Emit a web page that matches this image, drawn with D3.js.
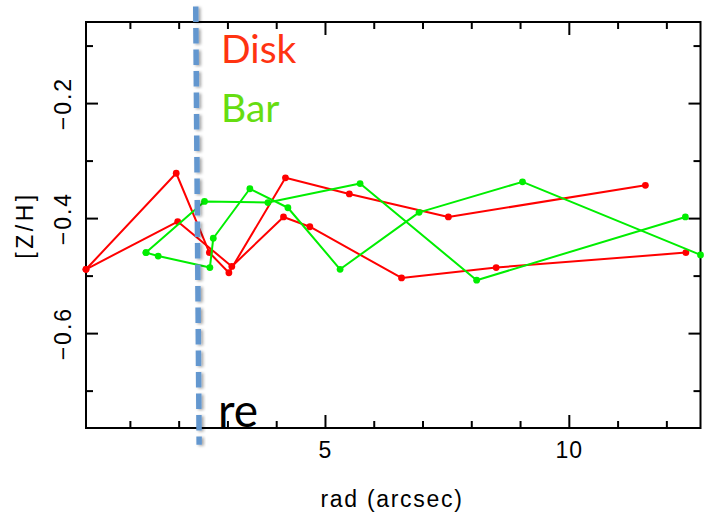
<!DOCTYPE html>
<html>
<head>
<meta charset="utf-8">
<script src="https://cdn.jsdelivr.net/npm/d3@7"></script>
<style>
  body { margin: 0; background: #fff; }
  svg { display: block; }
</style>
</head>
<body>
<div class="svg-container"></div>
<script>
// values (rad in arcsec, [Z/H])
const diskA_rad = [0.10, 1.95, 2.63, 3.03, 4.19, 5.50, 7.53, 11.57];
const diskA_zh  = [-0.489, -0.322, -0.460, -0.495, -0.330, -0.358, -0.398, -0.343];
const diskB_rad = [0.10, 1.98, 3.09, 4.15, 4.69, 6.57, 8.51, 12.40];
const diskB_zh  = [-0.489, -0.406, -0.484, -0.398, -0.415, -0.504, -0.486, -0.460];
const barA_rad  = [1.33, 2.53, 3.83, 5.72, 8.11, 12.39];
const barA_zh   = [-0.460, -0.371, -0.373, -0.340, -0.508, -0.398];
const barB_rad  = [1.33, 1.58, 2.64, 2.71, 3.46, 4.24, 5.31, 6.93, 9.05, 12.70];
const barB_zh   = [-0.460, -0.466, -0.486, -0.435, -0.349, -0.382, -0.489, -0.390, -0.337, -0.464];

// effective radius marker (hand drawn, slightly tilted)
const reLine = [[2.35, -0.032], [2.42, -0.794]];

const xDomain = [0.1, 12.7];
const yDomain = [-0.765, -0.059];
const xMajor = [5, 10];
const xMinor = [1, 2, 3, 4, 6, 7, 8, 9, 11, 12];
const yMajor = [-0.2, -0.4, -0.6];
const yMinor = [-0.1, -0.3, -0.5, -0.7];

const margin = {top: 22, right: 8.5, bottom: 89, left: 86};
const width = 709 - margin.left - margin.right;
const height = 517 - margin.top - margin.bottom;

const svg = d3.select('.svg-container')
    .append('svg')
    .attr('width', 709)
    .attr('height', 517);

const defs = svg.append('defs');
defs.append('filter')
    .attr('id', 'shadow')
    .attr('x', '-200%').attr('width', '500%')
  .append('feDropShadow')
    .attr('dx', 2).attr('dy', 1)
    .attr('stdDeviation', 1.5)
    .attr('flood-color', '#000')
    .attr('flood-opacity', 0.35);

const g = svg.append('g')
    .attr('transform', `translate(${margin.left}, ${margin.top})`);

const x = d3.scaleLinear().domain(xDomain).range([0, width]);
const y = d3.scaleLinear().domain(yDomain).range([height, 0]);

const axisFont = '"Liberation Sans", Arial, sans-serif';

function styleAxis(sel) {
  sel.select('.domain').remove();
  sel.selectAll('line').attr('stroke', '#000').attr('stroke-width', 2);
}

// bottom + top
g.append('g').attr('transform', `translate(0,${height})`)
    .call(d3.axisBottom(x).tickValues(xMinor).tickSize(-7).tickFormat(''))
    .call(styleAxis);
g.append('g').attr('transform', `translate(0,${height})`)
    .call(d3.axisBottom(x).tickValues(xMajor).tickSize(-13).tickPadding(14).tickFormat(d3.format('d')))
    .call(styleAxis)
    .call(s => s.selectAll('text')
      .attr('fill', '#000')
      .style('font-family', axisFont)
      .style('font-size', '23px')
      .style('letter-spacing', '1px'));
g.append('g')
    .call(d3.axisTop(x).tickValues(xMinor).tickSize(-7).tickFormat(''))
    .call(styleAxis);
g.append('g')
    .call(d3.axisTop(x).tickValues(xMajor).tickSize(-13).tickFormat(''))
    .call(styleAxis);

// left + right
g.append('g')
    .call(d3.axisLeft(y).tickValues(yMinor).tickSize(-7).tickFormat(''))
    .call(styleAxis);
g.append('g')
    .call(d3.axisLeft(y).tickValues(yMajor).tickSize(-12).tickFormat(d => d3.format('.1f')(d).replace('-', '\u2212')))
    .call(styleAxis)
    .call(s => s.selectAll('text')
      .attr('fill', '#000')
      .attr('x', 0)
      .attr('y', -15)
      .attr('dy', null)
      .attr('transform', 'rotate(-90)')
      .attr('text-anchor', 'middle')
      .style('font-family', axisFont)
      .style('font-size', '23px')
      .style('letter-spacing', '2px'));
g.append('g').attr('transform', `translate(${width},0)`)
    .call(d3.axisRight(y).tickValues(yMinor).tickSize(-7).tickFormat(''))
    .call(styleAxis);
g.append('g').attr('transform', `translate(${width},0)`)
    .call(d3.axisRight(y).tickValues(yMajor).tickSize(-12).tickFormat(''))
    .call(styleAxis);

// frame
g.append('rect')
    .attr('width', width)
    .attr('height', height)
    .attr('fill', 'none')
    .attr('stroke', '#000')
    .attr('stroke-width', 2);

// axis titles
svg.append('text')
    .attr('x', 392)
    .attr('y', 507)
    .attr('text-anchor', 'middle')
    .style('font-family', axisFont)
    .style('font-size', '23px')
    .style('letter-spacing', '1.7px')
    .text('rad (arcsec)');

svg.append('text')
    .attr('transform', 'translate(33,225) rotate(-90)')
    .attr('text-anchor', 'middle')
    .style('font-family', axisFont)
    .style('font-size', '23px')
    .style('letter-spacing', '3.5px')
    .text('[Z/H]');

// series
const series = [
  {rad: diskA_rad, zh: diskA_zh, color: '#ff0000'},
  {rad: diskB_rad, zh: diskB_zh, color: '#ff0000'},
  {rad: barA_rad,  zh: barA_zh,  color: '#00ee00'},
  {rad: barB_rad,  zh: barB_zh,  color: '#00ee00'}
];

const line = d3.line()
    .x(d => x(d[0]))
    .y(d => y(d[1]));

series.forEach(s => {
  const pts = s.rad.map((r, i) => [r, s.zh[i]]);
  g.append('path')
      .datum(pts)
      .attr('fill', 'none')
      .attr('stroke', s.color)
      .attr('stroke-width', 2)
      .attr('stroke-linejoin', 'round')
      .attr('d', line);
  g.selectAll(null)
      .data(pts)
      .enter().append('circle')
      .attr('cx', d => x(d[0]))
      .attr('cy', d => y(d[1]))
      .attr('r', 3.4)
      .attr('fill', s.color);
});

// re marker
g.append('line')
    .attr('x1', x(reLine[0][0]))
    .attr('y1', y(reLine[0][1]))
    .attr('x2', x(reLine[1][0]))
    .attr('y2', y(reLine[1][1]))
    .attr('stroke', '#6497cf')
    .attr('stroke-width', 5.5)
    .attr('stroke-dasharray', '15.5,6')
    .attr('filter', 'url(#shadow)');

// annotations
const noteFont = 'Lato, "Open Sans", sans-serif';
svg.append('text')
    .attr('x', 221)
    .attr('y', 63)
    .attr('fill', '#ff3311')
    .style('font-family', noteFont)
    .style('font-size', '39px')
    .text('Disk');
svg.append('text')
    .attr('x', 221)
    .attr('y', 122)
    .attr('fill', '#66dd11')
    .style('font-family', noteFont)
    .style('font-size', '39px')
    .text('Bar');
svg.append('text')
    .attr('x', 218)
    .attr('y', 427)
    .attr('fill', '#000')
    .style('font-family', noteFont)
    .style('font-size', '46px')
    .text('re');
</script>
</body>
</html>
